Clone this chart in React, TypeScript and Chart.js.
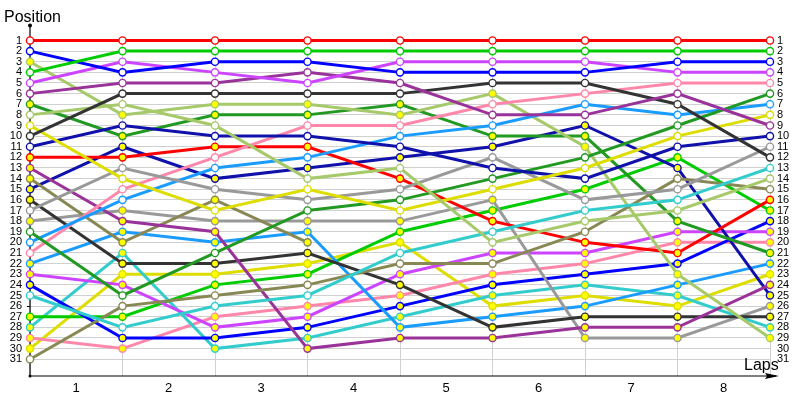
import React, { useEffect, useRef } from "react";
import { Chart, registerables } from "chart.js";

Chart.register(...registerables);

// ---- data ----
const lapValues = [0, 1, 2, 3, 4, 5, 6, 7, 8];
const lapLabels = ["1", "2", "3", "4", "5", "6", "7", "8"];
const positionTicks = [
  1, 2, 3, 4, 5, 6, 7, 8, 9, 10, 11, 12, 13, 14, 15, 16, 17, 18, 19, 20, 21,
  22, 23, 24, 25, 26, 27, 28, 29, 30, 31,
];

// drivers with white markers
const redA = [1, 1, 1, 1, 1, 1, 1, 1, 1];
const greenA = [4, 2, 2, 2, 2, 2, 2, 2, 2];
const blueA = [2, 4, 3, 3, 4, 4, 4, 3, 3];
const magentaA = [5, 3, 4, 5, 3, 3, 3, 4, 4];
const purpleA = [6, 5, 5, 4, 5, 8, 8, 6, 9];
const blackA = [10, 6, 6, 6, 6, 5, 5, 7, 12];
const lightGreenA = [8, 7, 9, 14, 13, 20, 18, 17, 14];
const yellowA = [9, 14, 17, 15, 17, 15, 13, 10, 8];
const darkBlueA = [11, 9, 10, 10, 11, 13, 14, 11, 10];
const grayA = [17, 13, 15, 16, 15, 12, 16, 15, 11];
const darkGreenA = [19, 25, 21, 17, 16, 14, 12, 9, 6];
const lightBlueA = [20, 16, 13, 12, 10, 9, 7, 8, 7];
const pinkA = [21, 15, 12, 9, 9, 7, 6, 5, 5];
const cyanA = [25, 28, 26, 25, 21, 19, 17, 16, 13];
const oliveA = [31, 26, 25, 24, 22, 22, 19, 14, 15];

// drivers with yellow markers
const lightGreenB = [3, 8, 7, 7, 8, 6, 11, 23, 29];
const darkGreenB = [7, 10, 8, 8, 7, 10, 10, 18, 21];
const redB = [12, 12, 11, 11, 14, 18, 20, 21, 16];
const purpleB = [13, 18, 19, 30, 29, 29, 28, 28, 24];
const oliveB = [14, 20, 16, 20];
const darkBlueB = [15, 11, 14, 13, 12, 11, 9, 13, 25];
const blackB = [16, 22, 22, 21, 24, 28, 27, 27, 27];
const grayB = [18, 17, 18, 18, 18, 16, 29, 29, 26];
const lightBlueB = [22, 19, 20, 19, 28, 27, 26, 24, 22];
const magentaB = [23, 24, 28, 27, 23, 21, 21, 19, 19];
const blueB = [24, 29, 29, 28, 26, 24, 23, 22, 18];
const greenB = [27, 27, 24, 23, 19, 17, 15, 12, 17];
const cyanB = [28, 21, 30, 29, 27, 25, 24, 25, 28];
const pinkB = [29, 30, 27, 26, 25, 23, 22, 20, 20];
const yellowB = [30, 23, 23, 22, 20, 26, 25, 26, 23];

// ---- styles ----
const palette = {
  red: "#ff0000",
  green: "#00cc00",
  blue: "#0000ff",
  magenta: "#cc44ff",
  purple: "#993399",
  black: "#333333",
  lightGreen: "#a6c96a",
  darkGreen: "#229922",
  yellow: "#dddd00",
  darkBlue: "#1010aa",
  gray: "#999999",
  pink: "#ff88aa",
  lightBlue: "#1a9cff",
  cyan: "#33cccc",
  olive: "#888855",
};

const drivers = [
  { name: "Red A", values: redA, color: palette.red, marked: false },
  { name: "Green A", values: greenA, color: palette.green, marked: false },
  { name: "Blue A", values: blueA, color: palette.blue, marked: false },
  { name: "Magenta A", values: magentaA, color: palette.magenta, marked: false },
  { name: "Purple A", values: purpleA, color: palette.purple, marked: false },
  { name: "Black A", values: blackA, color: palette.black, marked: false },
  { name: "LightGreen A", values: lightGreenA, color: palette.lightGreen, marked: false },
  { name: "Yellow A", values: yellowA, color: palette.yellow, marked: false },
  { name: "DarkBlue A", values: darkBlueA, color: palette.darkBlue, marked: false },
  { name: "Gray A", values: grayA, color: palette.gray, marked: false },
  { name: "DarkGreen A", values: darkGreenA, color: palette.darkGreen, marked: false },
  { name: "LightBlue A", values: lightBlueA, color: palette.lightBlue, marked: false },
  { name: "Pink A", values: pinkA, color: palette.pink, marked: false },
  { name: "Cyan A", values: cyanA, color: palette.cyan, marked: false },
  { name: "Olive A", values: oliveA, color: palette.olive, marked: false },
  { name: "LightGreen B", values: lightGreenB, color: palette.lightGreen, marked: true },
  { name: "DarkGreen B", values: darkGreenB, color: palette.darkGreen, marked: true },
  { name: "Red B", values: redB, color: palette.red, marked: true },
  { name: "Purple B", values: purpleB, color: palette.purple, marked: true },
  { name: "Olive B", values: oliveB, color: palette.olive, marked: true },
  { name: "DarkBlue B", values: darkBlueB, color: palette.darkBlue, marked: true },
  { name: "Black B", values: blackB, color: palette.black, marked: true },
  { name: "Gray B", values: grayB, color: palette.gray, marked: true },
  { name: "LightBlue B", values: lightBlueB, color: palette.lightBlue, marked: true },
  { name: "Magenta B", values: magentaB, color: palette.magenta, marked: true },
  { name: "Blue B", values: blueB, color: palette.blue, marked: true },
  { name: "Green B", values: greenB, color: palette.green, marked: true },
  { name: "Cyan B", values: cyanB, color: palette.cyan, marked: true },
  { name: "Pink B", values: pinkB, color: palette.pink, marked: true },
  { name: "Yellow B", values: yellowB, color: palette.yellow, marked: true },
];

const FONT = "'Liberation Sans', Arial, sans-serif";

const decorPlugin = {
  id: "decor",
  beforeDatasetsDraw(chart: any) {
    const { ctx, chartArea } = chart;
    const { left, right, top, bottom } = chartArea;
    ctx.save();
    ctx.strokeStyle = "#000";
    ctx.fillStyle = "#000";
    ctx.lineWidth = 1.2;
    // y axis
    ctx.beginPath();
    ctx.moveTo(left, top - 15);
    ctx.lineTo(left, bottom);
    ctx.stroke();
    ctx.beginPath();
    ctx.arc(left, top - 15, 2, 0, Math.PI * 2);
    ctx.fill();
    // x axis
    ctx.beginPath();
    ctx.moveTo(left, bottom);
    ctx.lineTo(right + 6, bottom);
    ctx.stroke();
    ctx.beginPath();
    ctx.arc(left, bottom, 1.5, 0, Math.PI * 2);
    ctx.fill();
    ctx.beginPath();
    ctx.moveTo(right + 9, bottom);
    ctx.lineTo(right - 5, bottom - 3);
    ctx.lineTo(right - 3, bottom);
    ctx.lineTo(right - 5, bottom + 3);
    ctx.closePath();
    ctx.fill();
    ctx.restore();
  },
  afterDraw(chart: any) {
    const { ctx, chartArea } = chart;
    ctx.save();
    ctx.fillStyle = "#000";
    ctx.font = `16px ${FONT}`;
    ctx.textAlign = "left";
    ctx.textBaseline = "alphabetic";
    ctx.fillText("Position", 4, 22);
    ctx.fillText("Laps", chartArea.right - 26, chartArea.bottom - 6);
    ctx.restore();
  },
};

export default function App() {
  const ref = useRef<HTMLCanvasElement | null>(null);

  useEffect(() => {
    if (!ref.current) return;
    const chart = new Chart(ref.current, {
      type: "line",
      data: {
        datasets: drivers.map((d) => ({
          label: d.name,
          data: d.values.map((v, i) => ({ x: lapValues[i], y: v })),
          borderColor: d.color,
          backgroundColor: d.color,
          borderWidth: 3,
          pointRadius: 3.6,
          pointBorderWidth: 1.4,
          pointBorderColor: d.color,
          pointBackgroundColor: d.marked ? "#ffff00" : "#ffffff",
          tension: 0,
          clip: false as any,
          yAxisID: "y",
        })),
      },
      options: {
        responsive: false,
        animation: false,
        layout: { padding: { top: 40.5, left: 0, right: 0, bottom: 0 } },
        plugins: {
          legend: { display: false },
          tooltip: { enabled: false },
          title: { display: false },
        },
        events: [],
        scales: {
          x: {
            type: "linear",
            min: 0,
            max: 8,
            afterBuildTicks: (s: any) => {
              s.ticks = lapValues.map((v) => ({ value: v }));
            },
            afterFit: (s: any) => {
              s.height = 24;
            },
            ticks: {
              autoSkip: false,
              maxRotation: 0,
              labelOffset: 46,
              padding: 5,
              color: "#000",
              font: { family: FONT, size: 13 },
              callback: (v: any) => lapLabels[v as number] ?? "",
            },
            grid: { color: "#d0d0d0", drawTicks: false, lineWidth: 1 },
            border: { display: false },
          },
          y: {
            type: "linear",
            position: "left",
            reverse: true,
            min: 1,
            max: 32.58,
            afterBuildTicks: (s: any) => {
              s.ticks = positionTicks.map((v) => ({ value: v }));
            },
            afterFit: (s: any) => {
              s.width = 30;
            },
            ticks: {
              autoSkip: false,
              padding: 5,
              color: "#000",
              font: { family: FONT, size: 11 },
              callback: (v: any) => String(v),
            },
            grid: {
              color: "#d0d0d0",
              drawTicks: true,
              tickLength: 3,
              tickColor: "#000",
              lineWidth: 1,
            },
            border: { display: false },
          },
          y2: {
            type: "linear",
            position: "right",
            reverse: true,
            min: 1,
            max: 32.58,
            afterBuildTicks: (s: any) => {
              s.ticks = positionTicks.map((v) => ({ value: v }));
            },
            afterFit: (s: any) => {
              s.width = 30;
            },
            ticks: {
              autoSkip: false,
              padding: 7,
              color: "#000",
              font: { family: FONT, size: 11 },
              callback: (v: any) => String(v),
            },
            grid: { display: false, drawTicks: false },
            border: { display: false },
          },
        },
      },
      plugins: [decorPlugin],
    } as any);
    return () => chart.destroy();
  }, []);

  return (
    <div style={{ position: "fixed", left: 0, top: 0, width: 800, height: 400, background: "#fff" }}>
      <canvas ref={ref} width={800} height={400} style={{ display: "block" }} />
    </div>
  );
}
